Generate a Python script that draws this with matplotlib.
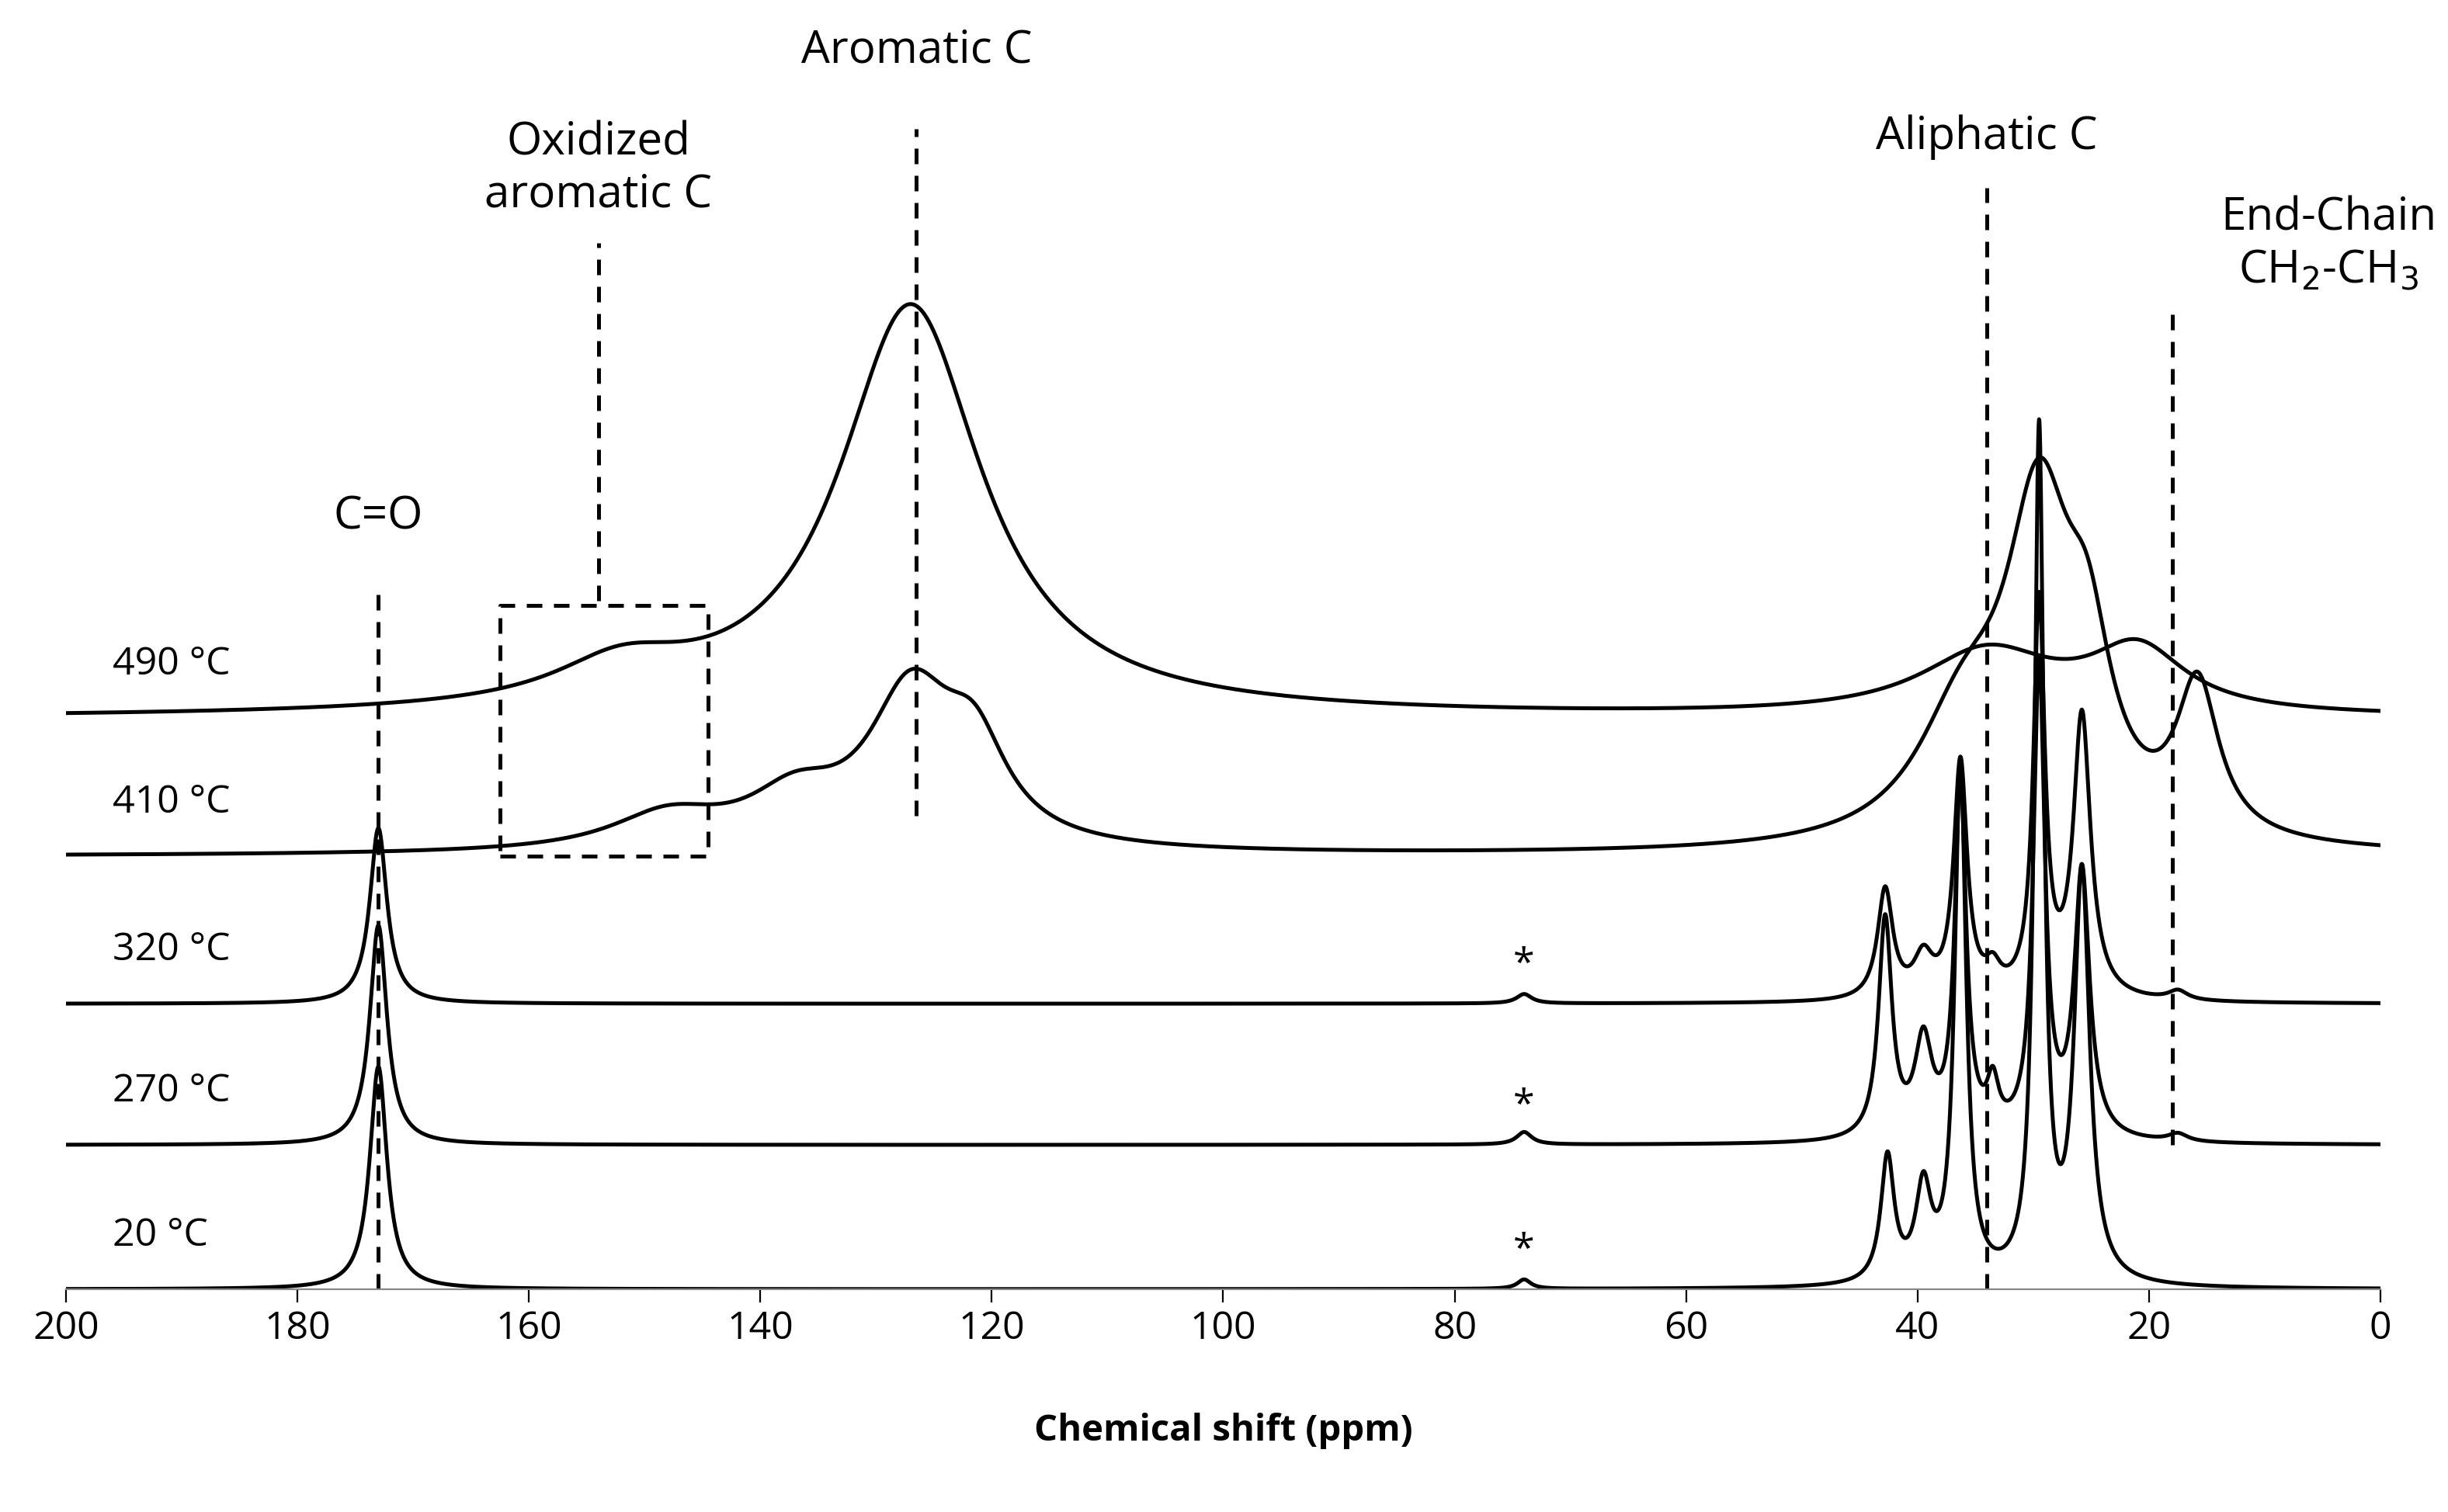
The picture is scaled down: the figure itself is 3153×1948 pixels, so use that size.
import numpy as np
import matplotlib
matplotlib.use("Agg")
import matplotlib.pyplot as plt

plt.rcParams['font.family'] = ['Open Sans', 'DejaVu Sans']

# Spectra: offsets and peaks (center ppm, height, half-width ppm)
labels = ["20 °C", "270 °C", "320 °C", "410 °C", "490 °C"]
offsets = [0, 92, 182, 276, 364]
peaks_20 = [(173, 142, 0.9), (74, 6, 0.7), (42.6, 80, 0.7), (39.5, 58, 0.8), (36.3, 330, 0.6),
            (29.5, 540, 0.5), (25.8, 260, 0.8)]
peaks_270 = [(173, 140, 0.9), (74, 8, 0.8), (42.8, 140, 0.7), (39.5, 60, 0.9), (36.3, 226, 0.6),
             (33.5, 30, 0.6), (29.5, 300, 0.6), (25.8, 170, 0.8), (17.5, 5, 1.0)]
peaks_320 = [(173, 112, 0.9), (74, 6, 0.8), (42.8, 70, 0.8), (39.5, 25, 1.0), (36.3, 150, 0.7),
             (33.5, 15, 0.8), (29.5, 250, 0.6), (25.8, 180, 0.9), (17.5, 6, 1.0)]
peaks_410 = [(148, 22, 6), (137, 30, 5), (127, 95, 4.5), (121.5, 55, 3.5),
             (36, 75, 5), (29.5, 200, 3.5), (25.3, 90, 2.5), (15.8, 95, 2.2)]
peaks_490 = [(152, 25, 7), (127, 262, 7.5), (34, 40, 7), (21, 40, 5)]
all_peaks = [peaks_20, peaks_270, peaks_320, peaks_410, peaks_490]
star_ppm = 74
star_traces = [0, 1, 2]

xticks = [200, 180, 160, 140, 120, 100, 80, 60, 40, 20, 0]

fig = plt.figure(figsize=(15.765, 9.74), dpi=200)
ax = fig.add_axes([42/1560, 1-822/964, (1517-42)/1560, 822/964])
x = np.linspace(200, 0, 6000)
for off, pk in zip(offsets, all_peaks):
    y = np.full_like(x, float(off))
    for c, h, w in pk:
        y += h * w**2 / ((x - c)**2 + w**2)
    ax.plot(x, y, color='black', lw=1.8)

for t, off in zip(labels, offsets):
    ax.text(196, off + 22, t, fontsize=18, ha='left', va='bottom')
for i in star_traces:
    ax.text(star_ppm, offsets[i] + 12, "*", fontsize=18, ha='center', va='bottom')

ls = dict(color='black', lw=1.8, ls=(0, (4, 3)))
ax.plot([173, 173], [0, 444], **ls)
ax.plot([154, 154], [439, 667], **ls)
ax.plot([126.5, 126.5], [302, 740], **ls)
ax.plot([34, 34], [0, 702], **ls)
ax.plot([18, 18], [92, 622], **ls)
ax.plot([162.5, 144.5, 144.5, 162.5, 162.5], [276, 276, 436, 436, 276], **ls)

fs = 21
ax.text(173, 478, "C=O", fontsize=fs, ha='center', va='bottom')
ax.text(154, 683, "Oxidized\naromatic C", fontsize=fs, ha='center', va='bottom', linespacing=1.2)
ax.text(126.5, 775, "Aromatic C", fontsize=fs, ha='center', va='bottom')
ax.text(34, 720, "Aliphatic C", fontsize=fs, ha='center', va='bottom')
ax.text(4.5, 635, "End-Chain\nCH$_2$-CH$_3$", fontsize=fs, ha='center', va='bottom', linespacing=1.2)

ax.set_xlim(200, 0)
ax.set_ylim(0, 822)
ax.set_xticks(xticks)
ax.tick_params(axis='x', labelsize=18, length=6, direction='out')
ax.set_yticks([])
for s in ['left', 'right', 'top']:
    ax.spines[s].set_visible(False)
ax.spines['bottom'].set_color('#888888')
ax.set_xlabel("Chemical shift (ppm)", fontsize=17, fontweight='bold', labelpad=30)
fig.savefig("out.png", dpi=200)
